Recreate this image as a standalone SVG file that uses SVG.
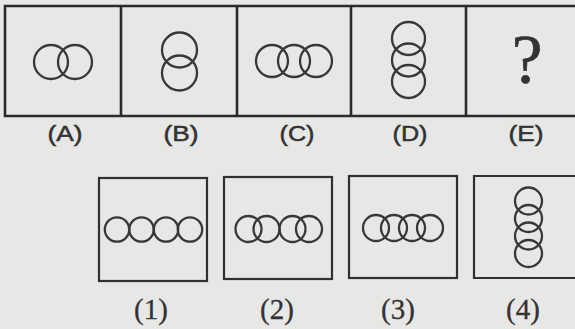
<svg xmlns="http://www.w3.org/2000/svg" width="575" height="329" viewBox="0 0 575 329">
<style>
.bx{fill:none;stroke:#2a2a2a;stroke-width:2.6}
.sb{fill:none;stroke:#303030;stroke-width:2.2}
.c{fill:none;stroke:#383838;stroke-width:2.3}
.lt{font-family:"Liberation Sans",Arial,sans-serif;font-size:22px;fill:#333;stroke:#333;stroke-width:0.5;text-anchor:middle}
.ls{font-family:"Liberation Serif","Times New Roman",serif;font-size:29px;fill:#333;stroke:#333;stroke-width:0.3;text-anchor:middle}
</style>
<rect width="575" height="329" fill="#e7e7e5"/>
<g id="top-frame">
<path class="bx" d="M577 6 H5 V116 H577 M121 6 V116 M237 6 V116 M351 6 V116 M466 6 V116"/>
</g>
<g id="figA">
<circle class="c" cx="51" cy="62" r="17"/>
<circle class="c" cx="75" cy="62" r="17"/>
<text class="lt" x="65" y="141" textLength="35" lengthAdjust="spacingAndGlyphs">(A)</text>
</g>
<g id="figB">
<circle class="c" cx="179.5" cy="50" r="17.5"/>
<circle class="c" cx="179.5" cy="73" r="17.5"/>
<text class="lt" x="181" y="141" textLength="35" lengthAdjust="spacingAndGlyphs">(B)</text>
</g>
<g id="figC">
<circle class="c" cx="272" cy="61" r="16"/>
<circle class="c" cx="294" cy="61" r="16"/>
<circle class="c" cx="316" cy="61" r="16"/>
<text class="lt" x="297" y="141" textLength="35" lengthAdjust="spacingAndGlyphs">(C)</text>
</g>
<g id="figD">
<circle class="c" cx="408.5" cy="38.5" r="16.5"/>
<circle class="c" cx="408.5" cy="60" r="16.5"/>
<circle class="c" cx="408.5" cy="81.5" r="16.5"/>
<text class="lt" x="410" y="141" textLength="35" lengthAdjust="spacingAndGlyphs">(D)</text>
</g>
<g id="figE">
<text x="527" y="83" font-family="'Liberation Serif','Times New Roman',serif" font-size="69" fill="#333" stroke="#333" stroke-width="0.7" text-anchor="middle">?</text>
<text class="lt" x="526" y="141" textLength="35" lengthAdjust="spacingAndGlyphs">(E)</text>
</g>
<g id="opt1">
<rect class="sb" x="99" y="178" width="108" height="103"/>
<circle class="c" cx="117" cy="229.5" r="12.2"/>
<circle class="c" cx="141.5" cy="229.5" r="12.2"/>
<circle class="c" cx="166" cy="229.5" r="12.2"/>
<circle class="c" cx="190" cy="229.5" r="12.2"/>
<text class="ls" x="151" y="319">(1)</text>
</g>
<g id="opt2">
<rect class="sb" x="224" y="177" width="108" height="102"/>
<circle class="c" cx="248.5" cy="229" r="13"/>
<circle class="c" cx="266.5" cy="229" r="13"/>
<circle class="c" cx="292.5" cy="229" r="13"/>
<circle class="c" cx="309" cy="229" r="13"/>
<text class="ls" x="277" y="319">(2)</text>
</g>
<g id="opt3">
<rect class="sb" x="349" y="176" width="108" height="102"/>
<circle class="c" cx="376" cy="228" r="13"/>
<circle class="c" cx="394" cy="228" r="13"/>
<circle class="c" cx="412" cy="228" r="13"/>
<circle class="c" cx="430" cy="228" r="13"/>
<text class="ls" x="398" y="319">(3)</text>
</g>
<g id="opt4">
<path class="sb" d="M577 176 H474 V278 H577"/>
<circle class="c" cx="528.5" cy="201" r="13.5"/>
<circle class="c" cx="528.5" cy="218.5" r="13.5"/>
<circle class="c" cx="528.5" cy="236" r="13.5"/>
<circle class="c" cx="528.5" cy="253.5" r="13.5"/>
<text class="ls" x="523" y="319">(4)</text>
</g>
<g id="connectors"></g>
</svg>
